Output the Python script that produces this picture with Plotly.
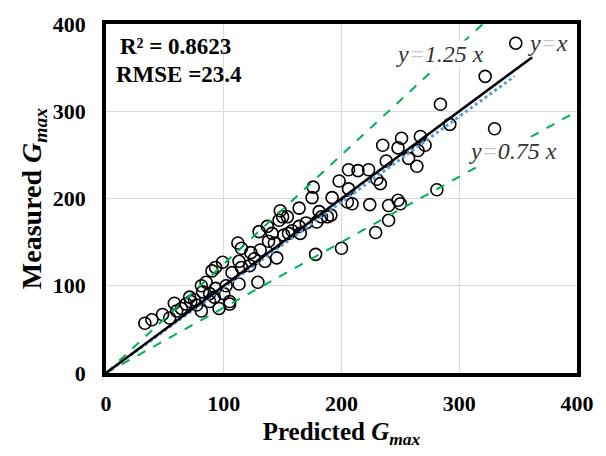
import plotly.graph_objects as go

# Predicted vs measured Gmax
predicted = [33, 39, 48, 54, 60, 58, 64, 71, 72, 77, 81, 81, 88, 82, 85, 88, 90, 93, 93, 96,
             99, 100, 102, 105, 105, 107, 112, 115, 113, 115, 113, 122, 123, 129, 130, 131,
             137, 138, 141, 143, 145, 147, 148, 150, 151, 154, 155, 164, 164, 165, 175, 176,
             178, 179, 181, 183, 188, 191, 192, 198, 200, 205, 209, 206, 206, 214, 223, 224,
             229, 230, 233, 235, 238, 240, 240, 248, 248, 250, 251, 257, 264, 265, 267, 271,
             281, 284, 292, 322, 330, 348, 75, 68, 92, 126, 135, 158, 170]
measured = [57, 61, 67, 63, 71, 80, 74, 87, 82, 78, 71, 100, 91, 93, 104, 82, 117, 121, 97, 74,
            127, 91, 100, 79, 82, 115, 149, 143, 128, 121, 102, 123, 138, 104, 162, 141,
            168, 151, 160, 149, 132, 175, 186, 179, 158, 179, 160, 189, 168, 160, 201, 213,
            136, 173, 185, 179, 179, 181, 201, 220, 143, 196, 194, 211, 233, 232, 233, 193,
            161, 222, 217, 261, 243, 192, 175, 258, 198, 194, 269, 246, 237, 255, 271, 261,
            210, 308, 285, 340, 280, 378, 84, 79, 87, 131, 128, 163, 172]

# Reference lines: (slope, last x value)
ref_slopes = [1.25, 0.75]
ref_x_end = [320, 400]
identity_x_end = 362
fit_slope = 0.98
fit_x_end = 347

serif = "Liberation Serif, Times New Roman, serif"

fig = go.Figure()

fig.add_trace(go.Scatter(
    x=predicted, y=measured, mode="markers",
    marker=dict(symbol="circle-open", size=12, color="black", line=dict(width=1.6)),
    showlegend=False, cliponaxis=False,
))

for s, xe in zip(ref_slopes, ref_x_end):
    fig.add_trace(go.Scatter(
        x=[0, xe], y=[0, s * xe], mode="lines",
        line=dict(color="#00B050", width=2, dash="dash"), showlegend=False,
    ))

fig.add_trace(go.Scatter(
    x=[0, fit_x_end], y=[0, fit_slope * fit_x_end], mode="lines",
    line=dict(color="#5B9BD5", width=3, dash="dot"), showlegend=False,
))
fig.add_trace(go.Scatter(
    x=[0, identity_x_end], y=[0, identity_x_end], mode="lines",
    line=dict(color="black", width=2.5), showlegend=False,
))

eq = "<span style='color:#c8c8c8'>=</span>"
label_font = dict(family=serif, size=24, color="#333333", style="italic")
for text, ax_, ay_ in [
    (f"y{eq}1.25 x", 284, 366),
    (f"y{eq}x", 375, 378),
    (f"y{eq}0.75 x", 346, 254),
]:
    fig.add_annotation(x=ax_, y=ay_, text=text, showarrow=False, font=label_font,
                       bgcolor="white", borderpad=0)

stats_font = dict(family=serif, size=23, color="black", weight="bold")
fig.add_annotation(xref="paper", yref="paper", x=0.025, y=0.935, xanchor="left",
                   yanchor="middle", text="R² = 0.8623", showarrow=False, font=stats_font)
fig.add_annotation(xref="paper", yref="paper", x=0.017, y=0.855, xanchor="left",
                   yanchor="middle", text="RMSE =23.4", showarrow=False, font=stats_font)

axis_common = dict(
    range=[0, 400], dtick=100, showgrid=True, gridcolor="#d9d9d9", gridwidth=1,
    showline=True, linecolor="black", linewidth=3.5, mirror=True, zeroline=False,
    ticks="", tickfont=dict(family=serif, size=22, color="black", weight="bold"),
)

fig.update_layout(
    width=606, height=456,
    margin=dict(l=106, r=26, t=16, b=83),
    paper_bgcolor="white", plot_bgcolor="white",
    xaxis=dict(**axis_common, ticklabelstandoff=8,
               title=dict(text="Predicted <i>G</i><sub><i>max</i></sub>",
                          font=dict(family=serif, size=25, color="black", weight="bold"),
                          standoff=8)),
    yaxis=dict(**axis_common, ticklabelstandoff=12,
               title=dict(text="Measured <i>G</i><sub><i>max</i></sub>",
                          font=dict(family=serif, size=28, color="black", weight="bold"),
                          standoff=4)),
)

fig.write_html("out.html")
